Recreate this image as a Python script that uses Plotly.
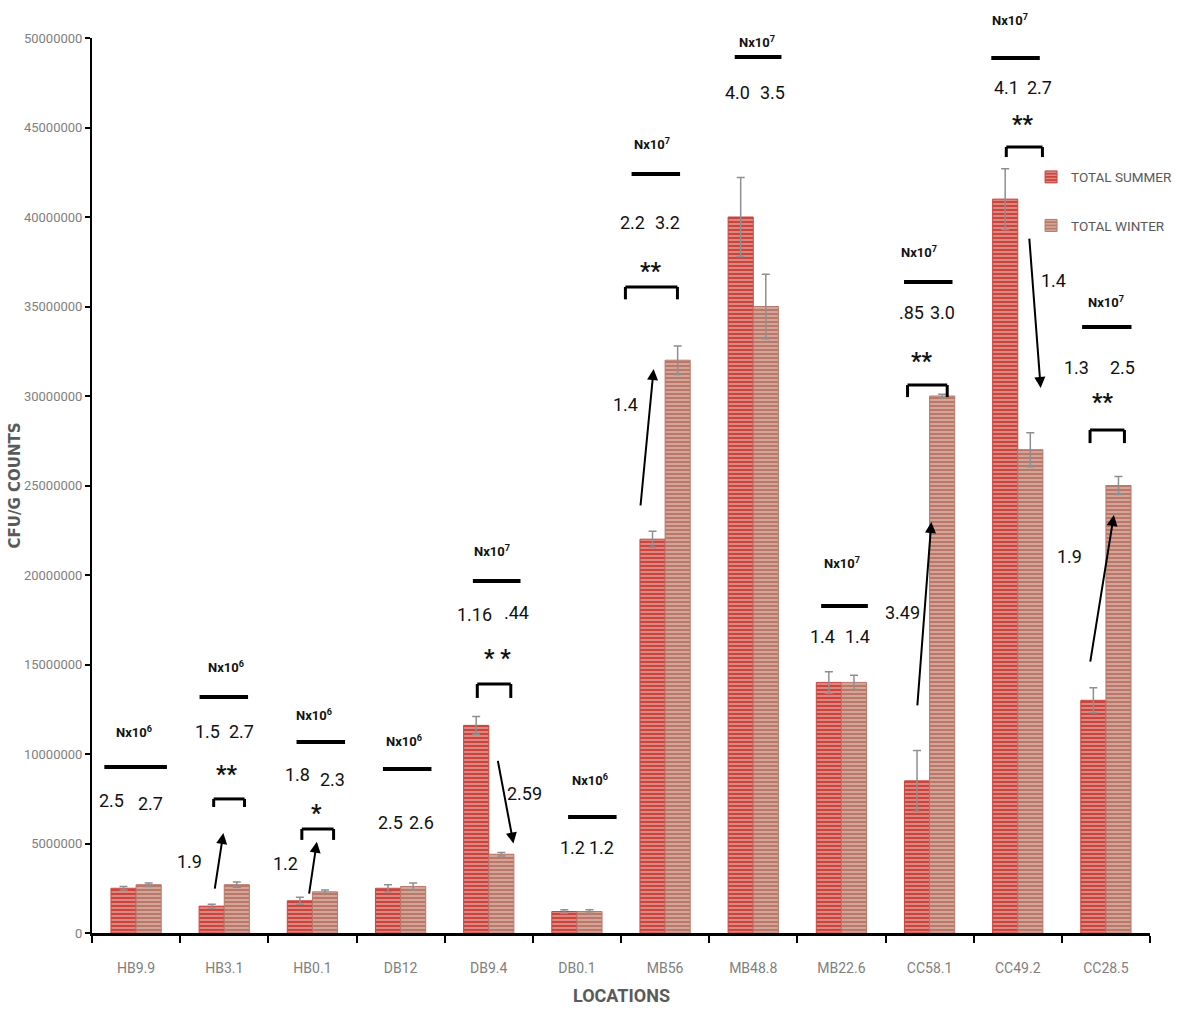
import plotly.graph_objects as go

# ---- data -------------------------------------------------------------
locations = ["HB9.9", "HB3.1", "HB0.1", "DB12", "DB9.4", "DB0.1",
             "MB56", "MB48.8", "MB22.6", "CC58.1", "CC49.2", "CC28.5"]

summer = [2.5e6, 1.5e6, 1.8e6, 2.5e6, 1.16e7, 1.2e6,
          2.2e7, 4.0e7, 1.4e7, 0.85e7, 4.1e7, 1.3e7]
winter = [2.7e6, 2.7e6, 2.3e6, 2.6e6, 0.44e7, 1.2e6,
          3.2e7, 3.5e7, 1.4e7, 3.0e7, 2.7e7, 2.5e7]

summer_err = [0.1e6, 0.1e6, 0.2e6, 0.2e6, 0.5e6, 0.1e6,
              0.45e6, 2.2e6, 0.6e6, 1.7e6, 1.7e6, 0.7e6]
winter_err = [0.1e6, 0.15e6, 0.1e6, 0.2e6, 0.1e6, 0.1e6,
              0.8e6, 1.8e6, 0.4e6, 0.1e6, 0.95e6, 0.5e6]

scale_exp = [6, 6, 6, 6, 7, 6, 7, 7, 7, 7, 7, 7]
summer_txt = ["2.5", "1.5", "1.8", "2.5", "1.16", "1.2",
              "2.2", "4.0", "1.4", ".85", "4.1", "1.3"]
winter_txt = ["2.7", "2.7", "2.3", "2.6", ".44", "1.2",
              "3.2", "3.5", "1.4", "3.0", "2.7", "2.5"]
signif = ["", "**", "*", "", "* *", "", "**", "", "", "**", "**", "**"]
fold_txt = ["", "1.9", "1.2", "", "2.59", "", "1.4", "", "", "3.49", "1.4", "1.9"]

y_ticks = list(range(0, 50000001, 5000000))
Y_MAX = 50000000

# ---- annotation placement (x offsets in category units, y in millions) --
place = [
    dict(nx=(-0.02, 11.23), line=(-0.36, 0.35, 9.27),
         nums=((-0.28, 7.43), (0.16, 7.26))),
    dict(nx=(0.02, 14.86), line=(-0.28, 0.27, 13.18),
         nums=((-0.19, 11.23), (0.20, 11.23)), sig=(0.03, 8.83),
         br=(-0.12, 0.23, 7.49, 7.04), arrow=(-0.11, 2.40, -0.01, 5.59),
         fold=(-0.39, 3.97)),
    dict(nx=(0.02, 12.18), line=(-0.18, 0.37, 10.67),
         nums=((-0.17, 8.83), (0.23, 8.55)), sig=(0.05, 6.70),
         br=(-0.12, 0.24, 5.81, 5.20), arrow=(-0.04, 2.12, 0.05, 5.10),
         fold=(-0.31, 3.91)),
    dict(nx=(0.04, 10.73), line=(-0.20, 0.35, 9.16),
         nums=((-0.12, 6.20), (0.24, 6.20))),
    dict(nx=(0.04, 21.34), line=(-0.18, 0.36, 19.66),
         nums=((-0.16, 17.82), (0.32, 17.93)), sig=(0.10, 15.36),
         br=(-0.13, 0.25, 13.91, 13.13), arrow=(0.10, 9.70, 0.28, 5.00),
         fold=(0.41, 7.82)),
    dict(nx=(0.15, 8.55), line=(-0.10, 0.45, 6.48),
         nums=((-0.05, 4.80), (0.28, 4.80))),
    dict(nx=(-0.15, 44.10), line=(-0.38, 0.17, 42.40),
         nums=((-0.37, 39.72), (0.03, 39.72)), sig=(-0.16, 36.93),
         br=(-0.45, 0.14, 36.09, 35.40), arrow=(-0.28, 23.80, -0.13, 31.51),
         fold=(-0.45, 29.50)),
    dict(nx=(0.04, 49.78), line=(-0.21, 0.32, 48.94),
         nums=((-0.18, 46.93), (0.22, 46.93))),
    dict(nx=(0.01, 20.67), line=(-0.23, 0.30, 18.27),
         nums=((-0.22, 16.54), (0.18, 16.54))),
    dict(nx=(-0.12, 38.04), line=(-0.29, 0.26, 36.37),
         nums=((-0.20, 34.69), (0.15, 34.69)), sig=(-0.09, 31.90),
         br=(-0.25, 0.20, 30.61, 29.94), arrow=(-0.14, 12.63, 0.02, 22.96),
         fold=(-0.31, 17.93)),
    dict(nx=(-0.09, 51.01), line=(-0.30, 0.25, 48.88),
         nums=((-0.13, 47.21), (0.25, 47.21)), sig=(0.05, 45.14),
         br=(-0.13, 0.28, 43.91, 43.35), arrow=(0.13, 38.88, 0.26, 30.45),
         fold=(0.40, 36.48)),
    dict(nx=(0.00, 35.25), line=(-0.27, 0.29, 33.85),
         nums=((-0.33, 31.62), (0.19, 31.62)), sig=(-0.04, 29.61),
         br=(-0.18, 0.21, 28.10, 27.37), arrow=(-0.18, 15.08, 0.09, 23.35),
         fold=(-0.41, 21.01)),
]

FONT = "Roboto, Liberation Sans, sans-serif"
M = 1e6


def py(v):
    """millions -> paper fraction of the y axis (range starts at 0)."""
    return v * M / Y_MAX


def label(x, y, text, size, bold=False):
    return dict(x=x, y=py(y), xref="x", yref="paper", xanchor="center",
                yanchor="middle", text="<b>%s</b>" % text if bold else text,
                showarrow=False, font=dict(family=FONT, size=size, color="#111111"))


fig = go.Figure()
fig.add_trace(go.Bar(
    name="TOTAL SUMMER", x=locations, y=summer, legendgroup="s",
    marker=dict(color="#c9453e", line=dict(color="#c9453e", width=1),
                pattern=dict(shape="-", bgcolor="#c9453e", fgcolor="#f7d6d2",
                             size=4, solidity=0.45)),
    error_y=dict(type="data", array=summer_err, color="#8f8f8f",
                 thickness=1.5, width=4),
))
fig.add_trace(go.Bar(
    name="TOTAL WINTER", x=locations, y=winter, legendgroup="w",
    marker=dict(color="#b9786a", line=dict(color="#b9786a", width=1),
                pattern=dict(shape="-", bgcolor="#b9786a", fgcolor="#f1ddd2",
                             size=4, solidity=0.45)),
    error_y=dict(type="data", array=winter_err, color="#8f8f8f",
                 thickness=1.5, width=4),
))

annotations = []
shapes = []
for i, p in enumerate(place):
    dx, yy = p["nx"]
    annotations.append(label(i + dx, yy, "Nx10<sup>%d</sup>" % scale_exp[i], 13, bold=True))
    x0, x1, yl = p["line"]
    shapes.append(dict(type="line", x0=i + x0, x1=i + x1, y0=yl * M, y1=yl * M,
                       line=dict(color="#000000", width=4)))
    for (ndx, ny), txt in zip(p["nums"], (summer_txt[i], winter_txt[i])):
        annotations.append(label(i + ndx, ny, txt, 18))
    if "sig" in p:
        sdx, sy = p["sig"]
        annotations.append(label(i + sdx, sy, signif[i], 23, bold=True))
    if "br" in p:
        bx0, bx1, btop, bleg = p["br"]
        seg = [(bx0, bleg, bx0, btop), (bx0, btop, bx1, btop), (bx1, btop, bx1, bleg)]
        for a, b, c, d in seg:
            shapes.append(dict(type="line", x0=i + a, y0=b * M, x1=i + c, y1=d * M,
                               line=dict(color="#000000", width=3)))
    if "arrow" in p:
        tx, ty, hx, hy = p["arrow"]
        annotations.append(dict(
            x=i + hx, y=hy * M, ax=i + tx, ay=ty * M, axref="x", ayref="y",
            xref="x", yref="y", text="", showarrow=True, arrowhead=2,
            arrowsize=1.1, arrowwidth=2, arrowcolor="#000000", standoff=0))
    if "fold" in p:
        fdx, fy = p["fold"]
        annotations.append(label(i + fdx, fy, fold_txt[i], 18))

# axis titles
annotations.append(dict(
    xref="paper", yref="paper", x=0, y=0.5, xshift=-78, xanchor="center",
    yanchor="middle", text="<b>CFU/G COUNTS</b>", textangle=-90, showarrow=False,
    font=dict(family="DejaVu Sans, sans-serif", size=15, color="#5a5a5a")))
annotations.append(dict(
    xref="paper", yref="paper", x=0.5, y=0, yshift=-62, xanchor="center",
    yanchor="middle", text="<b>LOCATIONS</b>", showarrow=False,
    font=dict(family=FONT, size=18, color="#5a5a5a")))

fig.update_layout(
    width=1177, height=1010,
    margin=dict(l=92, r=27, t=38, b=77, autoexpand=False),
    paper_bgcolor="white", plot_bgcolor="white",
    barmode="group", bargap=0.43, bargroupgap=0,
    showlegend=True,
    legend=dict(xref="container", yref="container", x=0.876, y=0.840,
                xanchor="left", yanchor="top",
                bgcolor="rgba(0,0,0,0)", tracegroupgap=28, itemwidth=30,
                font=dict(family=FONT, size=13.5, color="#595959")),
    annotations=annotations, shapes=shapes,
    font=dict(family=FONT),
)
fig.update_xaxes(
    type="category", tickson="boundaries", showline=True, linecolor="#000000",
    linewidth=3, ticks="outside", ticklen=7, tickwidth=2, tickcolor="#000000",
    showgrid=False, ticklabelstandoff=20,
    tickfont=dict(family=FONT, size=14, color="#808080"),
    range=[-0.5, len(locations) - 0.5],
)
fig.update_yaxes(
    range=[0, Y_MAX], tickvals=y_ticks, tickformat="d",
    showline=True, linecolor="#000000", linewidth=2, ticks="outside",
    ticklen=5, tickwidth=2, tickcolor="#000000", showgrid=False, zeroline=False,
    tickfont=dict(family=FONT, size=13, color="#808080"),
)

fig.write_html("out.html")
